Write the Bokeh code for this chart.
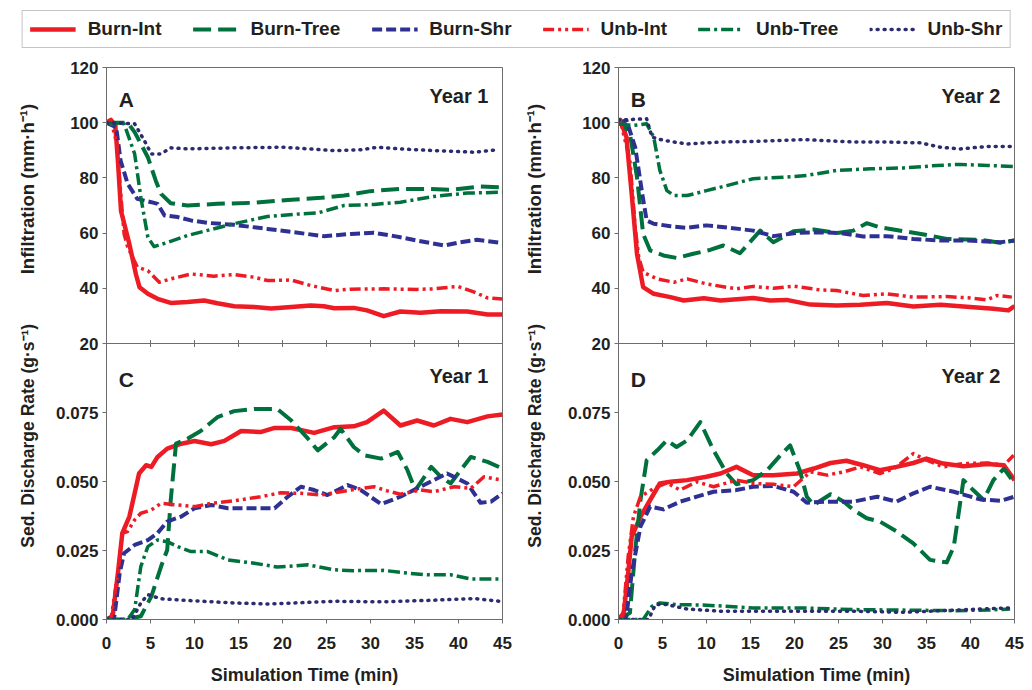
import math
from bokeh.plotting import figure
from bokeh.models import (Range1d, FixedTicker, Label, Span, Legend, LegendItem)
from bokeh.layouts import column, row
from bokeh.embed import file_html
from bokeh.resources import INLINE
from bokeh.core.properties import value

# ---------------- data ----------------
series = ["Burn-Int", "Burn-Tree", "Burn-Shr", "Unb-Int", "Unb-Tree", "Unb-Shr"]
x_ticks = [0, 5, 10, 15, 20, 25, 30, 35, 40, 45]
inf_ticks = [20, 40, 60, 80, 100, 120]
sed_ticks = [0.0, 0.025, 0.05, 0.075]
sed_tick_labels = ["0.000", "0.025", "0.050", "0.075"]
x_title = "Simulation Time (min)"
inf_title = "Infiltration (mm\u00b7h\u207b\u00b9)"
sed_title = "Sed. Discharge Rate (g\u00b7s\u207b\u00b9)"

# Panel A (Year 1 infiltration)
A_burn_int_t = [0, 0.5, 1.0, 1.3, 1.65, 2.6, 3.35, 3.75, 4.7, 5.8, 7.3, 9.2, 11.1, 12.6, 14.5, 16.8, 18.7, 21, 23.2, 24.7, 25.9, 28.1, 29.6, 31.5, 33.4, 35.7, 38, 41, 43.3, 45]
A_burn_int_v = [100, 101, 99, 86, 68, 56, 45, 40.4, 38, 36.2, 34.7, 35, 35.6, 34.6, 33.5, 33.2, 32.7, 33.2, 33.8, 33.5, 32.8, 32.9, 32, 29.9, 31.6, 31.1, 31.7, 31.6, 30.5, 30.5]
A_burn_tree_t = [0, 2.4, 3.2, 4.7, 5.6, 6.2, 7.3, 9.2, 12.6, 16.8, 20.6, 24.4, 27, 30, 33.4, 36.5, 39.1, 42.5, 45]
A_burn_tree_v = [100, 100, 96.6, 87.5, 79, 74.2, 70.8, 70, 70.6, 71, 72, 72.8, 73.6, 75.2, 76, 76, 75.7, 76.9, 76.6]
A_burn_shr_t = [0, 1.1, 1.6, 2.4, 3.5, 5.1, 5.8, 6.6, 8.1, 9.6, 11.5, 14.5, 18.3, 21.3, 24.7, 27.8, 30.4, 32.7, 35.3, 38.4, 40.2, 42.1, 45]
A_burn_shr_v = [100, 98.4, 86.3, 77.9, 72.4, 71.2, 70.6, 66.4, 65.8, 64.6, 63.7, 63, 61.5, 60.3, 58.9, 59.7, 60.1, 58.9, 57.3, 55.5, 56.7, 57.6, 56.4]
A_unb_int_t = [0, 0.5, 1.2, 1.6, 2.0, 2.4, 3.5, 4.7, 6.0, 7.3, 9.6, 12.2, 14.5, 16.8, 18.3, 21, 23.2, 25.9, 27.8, 31.5, 35.3, 37.2, 39.9, 41.8, 43.3, 45]
A_unb_int_v = [100, 101, 92, 75, 59.7, 55, 47.7, 46.4, 42.2, 43.4, 45.2, 44.4, 45, 44, 42.8, 43, 41, 39.2, 39.7, 39.8, 39.6, 39.8, 40.7, 38.6, 36.5, 36.1]
A_unb_tree_t = [0, 2.0, 3.2, 3.9, 4.7, 5.4, 7, 9.2, 11.5, 14.5, 18.3, 22.1, 24, 27, 30.4, 33.4, 37.2, 41, 45]
A_unb_tree_v = [100, 99.6, 88.7, 73, 58.5, 55.1, 56.7, 59.1, 61, 63.4, 66, 67, 67.3, 70, 70.4, 71.2, 73.3, 74.5, 74.8]
A_unb_shr_t = [0, 3.2, 4.3, 5.1, 6.2, 7.3, 9.2, 14.5, 20.2, 25.9, 28.9, 30.8, 33.4, 37.2, 41.8, 44.4]
A_unb_shr_v = [100, 99.6, 93.5, 88.7, 88.7, 90.9, 90.5, 90.9, 91.1, 89.9, 90.2, 91.1, 90.5, 89.9, 89.3, 90.2]

# Panel B (Year 2 infiltration)
B_burn_int_t = [0, 0.2, 0.9, 1.5, 2.1, 2.8, 4, 5.9, 7.4, 9.7, 11.6, 15.3, 17.2, 19.1, 21.8, 24.8, 27.5, 30.5, 33.5, 36.6, 39.2, 42.6, 44.3, 45]
B_burn_int_v = [100, 101, 94.8, 74.2, 52.5, 40.4, 38, 36.8, 35.6, 36.4, 35.6, 36.5, 35.6, 35.8, 34.1, 33.8, 34, 34.7, 33.4, 34, 33.4, 32.6, 32, 33.5]
B_burn_tree_t = [0, 0.2, 1.3, 2.1, 2.8, 3.6, 5.1, 6.6, 8.5, 10.4, 11.9, 13.8, 16.1, 17.6, 19.9, 22.2, 24.8, 26.7, 28.2, 29.7, 32.4, 34.7, 37.3, 41.1, 43.4, 45]
B_burn_tree_v = [99, 100.8, 96, 80.3, 59.7, 53.7, 51.9, 51, 52.5, 53.9, 55.5, 52.7, 60.9, 56.7, 60.7, 61.3, 60, 60.9, 63.6, 62.1, 60.7, 59.5, 57.9, 57.6, 56.5, 57.3]
B_burn_shr_t = [0, 0.9, 1.9, 2.7, 3.2, 4, 5.9, 7.8, 10, 12.7, 15.3, 17.6, 20.3, 22.9, 25.2, 27.8, 30.5, 33.5, 36.6, 39.6, 43.4, 45]
B_burn_shr_v = [100, 100.8, 91.1, 74.2, 64.6, 63.4, 62.5, 61.9, 62.8, 61.9, 60.9, 58.9, 60.1, 60.3, 60, 58.8, 58.9, 57.9, 57.3, 57.3, 56.7, 57.3]
B_unb_int_t = [0, 0.2, 1.3, 1.9, 2.3, 2.8, 4.4, 6.3, 7.8, 10, 13.4, 15.3, 17.6, 19.9, 22.9, 24.8, 27.8, 30.5, 33.5, 37.3, 40, 41.9, 43, 44.7]
B_unb_int_v = [100, 100.8, 86.3, 62, 51.3, 45.8, 43.4, 42.2, 43.4, 41.6, 39.8, 40.7, 40, 40.8, 39.4, 39.2, 37.4, 38, 36.8, 37, 36.5, 35.8, 37.4, 36.8]
B_unb_tree_t = [0, 1.7, 3.2, 4, 4.7, 5.5, 6.3, 7.8, 10, 12.3, 15.3, 19.1, 21.4, 24.8, 28.6, 32.4, 36.2, 38.8, 41.9, 45]
B_unb_tree_v = [99.6, 99, 99.6, 94.8, 82.7, 75.4, 73.6, 73.6, 75.4, 77.2, 79.7, 80.3, 80.9, 82.7, 83.3, 83.6, 84.5, 84.9, 84.5, 84.1]
B_unb_shr_t = [0, 3.2, 3.8, 5.1, 7.8, 11.6, 15.3, 21, 26.7, 30.5, 34.3, 36.6, 38.8, 41.9, 45]
B_unb_shr_v = [101, 101.4, 94.8, 93.6, 92.3, 93, 93.2, 93.9, 93, 93, 92.7, 91.1, 90.5, 91.4, 91.4]

# Panel C (Year 1 sediment discharge)
C_burn_int_t = [0, 0.7, 1.3, 1.8, 2.6, 3.2, 3.7, 4.5, 5.1, 5.8, 6.9, 8.5, 10, 11.9, 13.4, 15.3, 17.5, 19.1, 21, 23.6, 25.9, 28.1, 29.6, 31.5, 33.4, 35.3, 37.2, 39.1, 41, 43.3, 45]
C_burn_int_v = [0, 0.0012, 0.0168, 0.0313, 0.0373, 0.0457, 0.0529, 0.0559, 0.0553, 0.0589, 0.0619, 0.0637, 0.0647, 0.0635, 0.0647, 0.0683, 0.0679, 0.0694, 0.0694, 0.0676, 0.0697, 0.0700, 0.0715, 0.0757, 0.0703, 0.0721, 0.0703, 0.0727, 0.0715, 0.0736, 0.0743]
C_burn_tree_t = [0, 2.2, 3.9, 5.1, 6.2, 6.9, 7.3, 7.9, 9.2, 10.7, 12.6, 14.5, 16.8, 19.4, 21, 22.9, 24, 25.9, 26.6, 28.1, 29.3, 31.2, 33.1, 34.2, 35.1, 36.9, 38, 39.1, 41.4, 43.3, 45]
C_burn_tree_v = [0, 0, 0.0012, 0.0084, 0.0192, 0.0252, 0.0433, 0.0637, 0.0655, 0.0683, 0.0733, 0.0755, 0.0763, 0.0763, 0.0721, 0.0655, 0.0613, 0.0661, 0.0691, 0.0625, 0.0595, 0.0583, 0.0607, 0.0541, 0.0469, 0.0553, 0.0517, 0.0493, 0.0589, 0.0571, 0.0547]
C_burn_shr_t = [0, 0.9, 1.5, 2, 3.2, 4.7, 5.8, 6.9, 8.5, 10, 11.9, 13.8, 16.8, 19.1, 20.6, 22.1, 23.6, 25.1, 27.4, 28.9, 31.2, 33.4, 35.3, 37.2, 38.7, 41, 42.5, 43.7, 45]
C_burn_shr_v = [0, 0.0012, 0.0168, 0.0240, 0.0270, 0.0288, 0.0313, 0.0355, 0.0373, 0.0403, 0.0415, 0.0403, 0.0403, 0.0403, 0.0445, 0.0481, 0.0469, 0.0451, 0.0487, 0.0469, 0.0418, 0.0445, 0.0475, 0.0505, 0.0529, 0.0493, 0.0423, 0.0427, 0.0457]
C_unb_int_t = [0, 0.5, 1.3, 1.8, 2.4, 3.2, 3.9, 5.1, 6.2, 8.1, 10, 11.9, 14.5, 17.5, 19.8, 22.1, 24.4, 26.6, 28.9, 30.4, 31.9, 33.4, 35.7, 37.2, 39.5, 41.4, 42.9, 45]
C_unb_int_v = [0, 0, 0.0168, 0.0313, 0.0319, 0.0361, 0.0385, 0.0397, 0.0421, 0.0415, 0.0409, 0.0421, 0.0430, 0.0445, 0.0459, 0.0457, 0.0451, 0.0463, 0.0475, 0.0481, 0.0466, 0.0454, 0.0469, 0.0463, 0.0481, 0.0475, 0.0517, 0.0505]
C_unb_tree_t = [0, 2.4, 3.2, 3.9, 4.7, 5.8, 6.9, 8.1, 9.6, 11.5, 13.8, 16.8, 19.4, 22.9, 25.9, 28.1, 31.5, 34.2, 36.5, 39.1, 41.4, 45]
C_unb_tree_v = [0, 0, 0.0036, 0.0192, 0.0264, 0.0288, 0.0282, 0.0264, 0.0246, 0.0246, 0.0216, 0.0204, 0.0190, 0.0198, 0.0180, 0.0177, 0.0178, 0.0168, 0.0162, 0.0162, 0.0147, 0.0147]
C_unb_shr_t = [0, 2.9, 3.9, 4.7, 6.2, 9.2, 14.5, 18.3, 25.9, 31.5, 37.2, 41.8, 45]
C_unb_shr_v = [0, 0, 0.0060, 0.0090, 0.0075, 0.0069, 0.0060, 0.0056, 0.0066, 0.0064, 0.0070, 0.0076, 0.0065]

# Panel D (Year 2 sediment discharge)
D_burn_int_t = [0, 0.6, 1.1, 1.5, 2.5, 3.6, 4.7, 5.9, 7.8, 10, 11.6, 13.4, 15.3, 17.6, 20.3, 22.2, 24.1, 25.9, 27.8, 29.7, 31.6, 33.5, 35, 36.9, 39.2, 41.9, 43.8, 45]
D_burn_int_v = [0, 0.0024, 0.0168, 0.0300, 0.0373, 0.0433, 0.0493, 0.0499, 0.0505, 0.0517, 0.0529, 0.0553, 0.0523, 0.0523, 0.0529, 0.0547, 0.0567, 0.0575, 0.0559, 0.0541, 0.0553, 0.0567, 0.0583, 0.0565, 0.0555, 0.0563, 0.0559, 0.0505]
D_burn_tree_t = [0, 1.3, 1.9, 2.5, 3.2, 4.4, 5.5, 6.6, 7.8, 9.3, 10.8, 12.3, 13.4, 15.3, 16.9, 18.4, 19.5, 20.6, 21.4, 22.2, 24.1, 25.6, 26.7, 28.2, 29.7, 31.6, 33.5, 35.4, 37.3, 38.1, 39.2, 40.3, 41.5, 42.6, 43.8, 45]
D_burn_tree_v = [0, 0.0024, 0.0252, 0.0433, 0.0577, 0.0613, 0.0649, 0.0625, 0.0649, 0.0715, 0.0613, 0.0529, 0.0490, 0.0505, 0.0541, 0.0595, 0.0631, 0.0541, 0.0445, 0.0415, 0.0454, 0.0427, 0.0397, 0.0367, 0.0355, 0.0319, 0.0276, 0.0216, 0.0207, 0.0264, 0.0505, 0.0469, 0.0433, 0.0505, 0.0547, 0.0493]
D_burn_shr_t = [0, 0.9, 1.5, 2.5, 3.6, 5.1, 7, 8.9, 10.8, 13.4, 15.3, 17.6, 19.9, 21.4, 23.7, 26.7, 29.4, 31.6, 33.5, 35.4, 38.1, 41.1, 43.4, 45]
D_burn_shr_v = [0, 0.0012, 0.0168, 0.0337, 0.0409, 0.0399, 0.0427, 0.0445, 0.0463, 0.0469, 0.0481, 0.0484, 0.0463, 0.0423, 0.0427, 0.0427, 0.0445, 0.0427, 0.0457, 0.0481, 0.0463, 0.0435, 0.0430, 0.0445]
D_unb_int_t = [0, 0.5, 1.1, 1.7, 2.5, 4, 5.5, 7, 8.9, 10.8, 13.4, 15.3, 17.6, 19.9, 21.8, 23.7, 25.6, 27.5, 29.7, 31.3, 33.5, 35, 36.9, 39.2, 41.9, 43.8, 44.9]
D_unb_int_v = [0, 0.0012, 0.0228, 0.0373, 0.0445, 0.0475, 0.0495, 0.0469, 0.0499, 0.0481, 0.0505, 0.0493, 0.0490, 0.0481, 0.0535, 0.0523, 0.0535, 0.0553, 0.0529, 0.0547, 0.0601, 0.0577, 0.0553, 0.0565, 0.0567, 0.0559, 0.0595]
D_unb_tree_t = [0, 2.8, 3.8, 4.7, 6.6, 10, 15.3, 21, 26.7, 32.4, 38.1, 41.9, 44.5]
D_unb_tree_v = [0, 0, 0.0048, 0.0060, 0.0054, 0.0052, 0.0042, 0.0042, 0.0036, 0.0034, 0.0032, 0.0034, 0.0038]
D_unb_shr_t = [0, 3.4, 4.2, 5.5, 7.8, 11.6, 19.1, 26.7, 32.4, 38.1, 44.5]
D_unb_shr_v = [0, 0, 0.0054, 0.0054, 0.0038, 0.0030, 0.0030, 0.0030, 0.0026, 0.0034, 0.0042]

panel_A = [(A_burn_int_t, A_burn_int_v), (A_burn_tree_t, A_burn_tree_v), (A_burn_shr_t, A_burn_shr_v),
           (A_unb_int_t, A_unb_int_v), (A_unb_tree_t, A_unb_tree_v), (A_unb_shr_t, A_unb_shr_v)]
panel_B = [(B_burn_int_t, B_burn_int_v), (B_burn_tree_t, B_burn_tree_v), (B_burn_shr_t, B_burn_shr_v),
           (B_unb_int_t, B_unb_int_v), (B_unb_tree_t, B_unb_tree_v), (B_unb_shr_t, B_unb_shr_v)]
panel_C = [(C_burn_int_t, C_burn_int_v), (C_burn_tree_t, C_burn_tree_v), (C_burn_shr_t, C_burn_shr_v),
           (C_unb_int_t, C_unb_int_v), (C_unb_tree_t, C_unb_tree_v), (C_unb_shr_t, C_unb_shr_v)]
panel_D = [(D_burn_int_t, D_burn_int_v), (D_burn_tree_t, D_burn_tree_v), (D_burn_shr_t, D_burn_shr_v),
           (D_unb_int_t, D_unb_int_v), (D_unb_tree_t, D_unb_tree_v), (D_unb_shr_t, D_unb_shr_v)]

# ---------------- styles ----------------
RED, GREEN, BLUE, NAVY = "#ED1C24", "#00703C", "#2E3192", "#2B2B6E"
STYLE = {
    "Burn-Int":  dict(line_color=RED,   line_width=4.5, line_dash="solid"),
    "Burn-Tree": dict(line_color=GREEN, line_width=4.0, line_dash="18 7"),
    "Burn-Shr":  dict(line_color=BLUE,  line_width=4.0, line_dash="10 4"),
    "Unb-Int":   dict(line_color=RED,   line_width=3.5, line_dash="11 4 3 4 3 4"),
    "Unb-Tree":  dict(line_color=GREEN, line_width=3.5, line_dash="12 4 3 4"),
    "Unb-Shr":   dict(line_color=NAVY,  line_width=3.5, line_dash="1 6", line_cap="round"),
}
FONT = "Liberation Sans"
AX = "#6d6d6d"
TXT = "#231F20"

FRAME_W, FRAME_H = 396, 552
B_TOP, B_BOT = 7, 71
TITLE_W = 44
INF_LO, INF_HI = -80.0, 120.0   # main y range of a column (top half = infiltration)
SED_LO, SED_HI = 0.0, 0.2       # extra range (bottom half = sediment)
TITLE_START_PX = [229, 541]     # where each rotated y title starts, px below the frame top
TITLE_SIZES = ["18.5px", "17.5px"]


def sed_pos(v):
    return round(INF_LO + (v - SED_LO) * (INF_HI - INF_LO) / (SED_HI - SED_LO), 6)


def make_column(top, bot, letter_top, letter_bot, year, left_border, right_border):
    p = figure(frame_width=FRAME_W, frame_height=FRAME_H, output_backend="svg", toolbar_location=None,
               x_range=Range1d(0, 45), y_range=Range1d(INF_LO, INF_HI),
               min_border_left=left_border, min_border_right=right_border,
               min_border_top=B_TOP, min_border_bottom=B_BOT)
    p.extra_y_ranges = {"sed": Range1d(SED_LO, SED_HI)}
    p.grid.visible = False
    p.outline_line_color = AX
    p.background_fill_color = "white"
    p.border_fill_color = "white"

    xa = p.xaxis[0]
    xa.ticker = FixedTicker(ticks=x_ticks)
    xa.axis_label = x_title
    ya = p.yaxis[0]
    ticks = list(inf_ticks) + [sed_pos(v) for v in sed_ticks]
    ya.ticker = FixedTicker(ticks=ticks)
    ya.major_label_overrides = {sed_pos(v): lab for v, lab in zip(sed_ticks, sed_tick_labels)}
    for ax in (xa, ya):
        ax.axis_line_color = AX
        ax.major_tick_line_color = AX
        ax.minor_tick_line_color = None
        ax.major_tick_out = 4
        ax.major_tick_in = 0
        ax.major_label_text_font = FONT
        ax.major_label_text_font_style = "bold"
        ax.major_label_text_font_size = "17px"
        ax.major_label_text_color = TXT
        ax.axis_label_text_font = FONT
        ax.axis_label_text_font_style = "bold"
        ax.axis_label_text_font_size = "18px"
        ax.axis_label_text_color = TXT
    ya.major_label_standoff = 4
    xa.major_label_standoff = 13
    xa.axis_label_standoff = 13

    # divider between the two stacked panels
    p.add_layout(Span(location=inf_ticks[0], dimension="width", line_color=AX, line_width=1))
    p.scatter(x=x_ticks[1:-1], y=[inf_ticks[0]] * (len(x_ticks) - 2), marker="dash",
              angle=math.pi / 2, size=7, line_color=AX, line_width=1)

    for (t, v), name in zip(top, series):
        p.line(t, v, line_join="round", **STYLE[name])
    for (t, v), name in zip(bot, series):
        p.line(t, v, y_range_name="sed", line_join="round", **STYLE[name])

    common = dict(text_font=FONT, text_font_style="bold", text_color=TXT)
    p.add_layout(Label(x=1.4, y=108.4, text=letter_top, text_font_size="21px",
                       text_align="left", text_baseline="alphabetic", **common))
    p.add_layout(Label(x=43.4, y=109.8, text=year, text_font_size="20px",
                       text_align="right", text_baseline="alphabetic", **common))
    p.add_layout(Label(x=1.4, y=0.0870, y_range_name="sed", text=letter_bot, text_font_size="21px",
                       text_align="left", text_baseline="alphabetic", **common))
    p.add_layout(Label(x=43.4, y=0.0884, y_range_name="sed", text=year, text_font_size="20px",
                       text_align="right", text_baseline="alphabetic", **common))
    return p


def make_titles(center_x):
    # narrow strip holding the two rotated y-axis titles, aligned with a column's panels
    unit = (INF_HI - INF_LO) / FRAME_H
    t = figure(width=TITLE_W, height=B_TOP + FRAME_H + B_BOT, output_backend="svg", toolbar_location=None,
               x_range=Range1d(0, TITLE_W),
               y_range=Range1d(INF_LO - B_BOT * unit, INF_HI + B_TOP * unit),
               x_axis_location=None, y_axis_location=None, min_border=0)
    t.grid.visible = False
    t.outline_line_color = None
    for label, px, size in zip([inf_title, sed_title], TITLE_START_PX, TITLE_SIZES):
        t.text(x=[center_x], y=[INF_HI - px * unit], text=[label], angle=math.pi / 2,
               text_align="left", text_baseline="middle", text_font=value(FONT),
               text_font_style="bold", text_font_size=size, text_color=TXT)
    return t


left_titles = make_titles(27)
left = make_column(panel_A, panel_C, "A", "C", "Year 1", 106 - TITLE_W, 10)
right_titles = make_titles(22)
right = make_column(panel_B, panel_D, "B", "D", "Year 2", 106 - TITLE_W, 1032 - 512 - TITLE_W - (106 - TITLE_W) - FRAME_W)

# ---------------- legend strip ----------------
lg = figure(width=1032, height=60, output_backend="svg", toolbar_location=None,
            x_range=Range1d(0, 1), y_range=Range1d(0, 1), x_axis_location=None, y_axis_location=None,
            min_border=0)
lg.grid.visible = False
lg.outline_line_color = None
items = []
for name in series:
    r = lg.line(x=[float("nan")], y=[float("nan")], **STYLE[name])
    items.append(LegendItem(label=name, renderers=[r]))
legend = Legend(items=items, orientation="horizontal", location="top_center", margin=10,
                padding=7, spacing=31, glyph_width=46, glyph_height=20, label_standoff=12,
                label_text_font=FONT, label_text_font_style="bold", label_text_font_size="19px",
                label_text_color=TXT, border_line_color="#8c8c8c", border_line_width=1.5,
                background_fill_color="white")
lg.add_layout(legend, "center")

layout = column(lg, row(left_titles, left, right_titles, right))
open("out.html", "w").write(file_html(layout, INLINE))
